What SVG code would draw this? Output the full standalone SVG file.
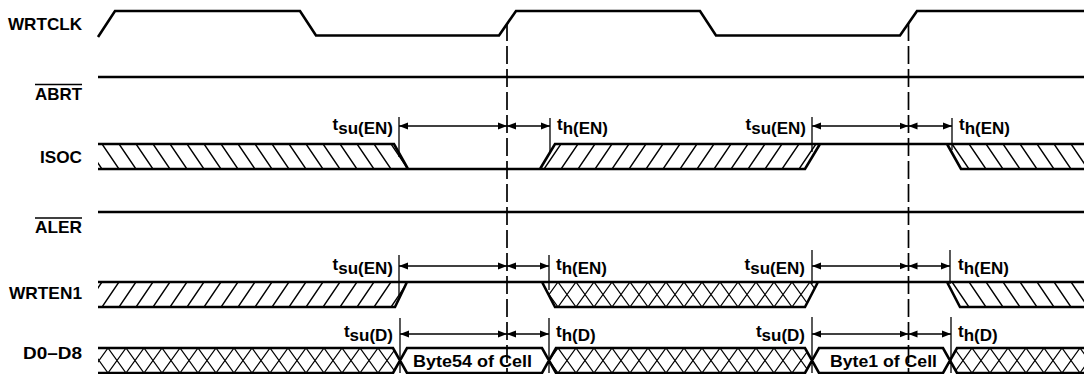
<svg xmlns="http://www.w3.org/2000/svg" width="1084" height="374" viewBox="0 0 1084 374">
<style>
.sig{fill:none;stroke:#000;stroke-width:2.6;stroke-linejoin:miter;stroke-linecap:butt}
.lbl{font-family:"Liberation Sans",Arial,sans-serif;font-weight:bold;font-size:17px;fill:#000}
.ov{stroke:#000;stroke-width:1.6}
.tick{stroke:#000;stroke-width:1.3}
.dim{stroke:#000;stroke-width:1.3;marker-start:url(#ah);marker-end:url(#ah)}
.dash{stroke:#000;stroke-width:1.7;stroke-dasharray:18 5;fill:none}
.h{stroke:#000;stroke-width:1.5;fill:none}
.hx{stroke:#000;stroke-width:1.2;fill:none}
</style>
<defs>
<marker id="ah" markerUnits="userSpaceOnUse" markerWidth="9" markerHeight="8" refX="9" refY="4" orient="auto-start-reverse" viewBox="0 0 9 8">
<path d="M0,0.5 L9,4 L0,7.5 z" fill="#000"/>
</marker>
<pattern id="isocBack" patternUnits="userSpaceOnUse" x="0" y="144" width="17" height="25"><path class="h" d="M0,0 L17,25 M-17,0 L0,25 M17,0 L34,25"/></pattern>
<pattern id="isocFwd" patternUnits="userSpaceOnUse" x="0" y="144" width="17" height="25"><path class="h" d="M17,0 L0,25 M34,0 L17,25 M0,0 L-17,25"/></pattern>
<pattern id="wrFwd" patternUnits="userSpaceOnUse" x="0" y="282" width="17" height="25"><path class="h" d="M17,0 L0,25 M34,0 L17,25 M0,0 L-17,25"/></pattern>
<pattern id="wrBack" patternUnits="userSpaceOnUse" x="0" y="282" width="17" height="25"><path class="h" d="M0,0 L17,25 M-17,0 L0,25 M17,0 L34,25"/></pattern>
<pattern id="wrCross" patternUnits="userSpaceOnUse" x="0" y="282" width="18" height="25"><path class="hx" d="M0,0 L18,25 M-18,0 L0,25 M18,0 L36,25 M18,0 L0,25 M36,0 L18,25 M0,0 L-18,25"/></pattern>
<pattern id="dCross" patternUnits="userSpaceOnUse" x="0" y="348" width="18" height="25"><path class="hx" d="M0,0 L18,25 M-18,0 L0,25 M18,0 L36,25 M18,0 L0,25 M36,0 L18,25 M0,0 L-18,25"/></pattern>
</defs>
<rect width="1084" height="374" fill="#fff"/>

<g id="wrtclk">
<text class="lbl" x="82" y="29.5" text-anchor="end" textLength="74" lengthAdjust="spacingAndGlyphs">WRTCLK</text>
<path class="sig" d="M98,37 L115,11 H300 L316,35.5 H499 L516,11 H700 L716,35.5 H900 L917,11 H1084"/>
</g>

<g id="abrt">
<text class="lbl" x="82" y="100" text-anchor="end" textLength="47" lengthAdjust="spacingAndGlyphs">ABRT</text>
<line class="ov" x1="35" y1="84.5" x2="82" y2="84.5"/>
<path class="sig" d="M98,77 H1084"/>
</g>

<g id="isoc">
<text class="lbl" x="82" y="163" text-anchor="end" textLength="42" lengthAdjust="spacingAndGlyphs">ISOC</text>
<polygon points="98,144 394,144 408,169 98,169" fill="url(#isocBack)"/>
<polygon points="555,144 820,144 805,169 540,169" fill="url(#isocFwd)"/>
<polygon points="947,144 1084,144 1084,169 961,169" fill="url(#isocBack)"/>
<path class="sig" d="M98,144 H394 L408,169 M98,169 H805 L820,144 M540,169 L555,144 H1084 M947,144 L961,169 H1084"/>
</g>

<g id="aler">
<text class="lbl" x="82" y="232.5" text-anchor="end" textLength="47" lengthAdjust="spacingAndGlyphs">ALER</text>
<line class="ov" x1="35" y1="218" x2="82" y2="218"/>
<path class="sig" d="M98,212 H1084"/>
</g>

<g id="wrten1">
<text class="lbl" x="82" y="299" text-anchor="end" textLength="73" lengthAdjust="spacingAndGlyphs">WRTEN1</text>
<polygon points="98,282 407,282 395,307 98,307" fill="url(#wrFwd)"/>
<polygon points="542,282 818,282 805,307 555,307" fill="url(#wrCross)"/>
<polygon points="947,282 1084,282 1084,307 960,307" fill="url(#wrBack)"/>
<path class="sig" d="M98,282 H1084 M98,307 H395 L407,282 M542,282 L555,307 H805 L818,282 M947,282 L960,307 H1084"/>
</g>

<g id="d0d8">
<text class="lbl" x="82" y="359" text-anchor="end" textLength="59" lengthAdjust="spacingAndGlyphs">D0–D8</text>
<polygon points="98,348 393,348 400,360.5 393,373 98,373" fill="url(#dCross)"/>
<polygon points="549,360.5 556,348 805,348 812,360.5 805,373 556,373" fill="url(#dCross)"/>
<polygon points="950,360.5 957,348 1084,348 1084,373 957,373" fill="url(#dCross)"/>
<path class="sig" d="M98,348 H393 L407,373 H542 L556,348 H805 L819,373 H943 L957,348 H1084 M98,373 H393 L407,348 H542 L556,373 H805 L819,348 H943 L957,373 H1084"/>
<text class="lbl" x="472.5" y="367" text-anchor="middle" textLength="119" lengthAdjust="spacingAndGlyphs">Byte54 of Cell</text>
<text class="lbl" x="883.5" y="367" text-anchor="middle" textLength="107" lengthAdjust="spacingAndGlyphs">Byte1 of Cell</text>
</g>

<g id="timing-labels">
<text class="lbl" x="393" y="130" text-anchor="end">t<tspan dy="4">su(EN)</tspan></text>
<text class="lbl" x="557" y="130">t<tspan dy="4">h(EN)</tspan></text>
<text class="lbl" x="806" y="130" text-anchor="end">t<tspan dy="4">su(EN)</tspan></text>
<text class="lbl" x="959" y="130">t<tspan dy="4">h(EN)</tspan></text>
<text class="lbl" x="393" y="270" text-anchor="end">t<tspan dy="4">su(EN)</tspan></text>
<text class="lbl" x="556" y="270">t<tspan dy="4">h(EN)</tspan></text>
<text class="lbl" x="805" y="270" text-anchor="end">t<tspan dy="4">su(EN)</tspan></text>
<text class="lbl" x="958" y="270">t<tspan dy="4">h(EN)</tspan></text>
<text class="lbl" x="393" y="337" text-anchor="end">t<tspan dy="4">su(D)</tspan></text>
<text class="lbl" x="556" y="337">t<tspan dy="4">h(D)</tspan></text>
<text class="lbl" x="805" y="337" text-anchor="end">t<tspan dy="4">su(D)</tspan></text>
<text class="lbl" x="958" y="337">t<tspan dy="4">h(D)</tspan></text>
</g>

<g id="connectors">
<line class="dash" x1="507" y1="23" x2="507" y2="374"/>
<line class="dash" x1="908.5" y1="23" x2="908.5" y2="374"/>
<line class="tick" x1="399" y1="117" x2="399" y2="157"/>
<line class="tick" x1="550" y1="118" x2="550" y2="152"/>
<line class="tick" x1="812" y1="117" x2="812" y2="152"/>
<line class="tick" x1="952" y1="118" x2="952" y2="150"/>
<line class="dim" x1="399" y1="126" x2="507" y2="126"/>
<line class="dim" x1="507" y1="126" x2="550" y2="126"/>
<line class="dim" x1="812" y1="126" x2="908.5" y2="126"/>
<line class="dim" x1="908.5" y1="126" x2="952" y2="126"/>
<line class="tick" x1="399" y1="255" x2="399" y2="295"/>
<line class="tick" x1="549" y1="255" x2="549" y2="290"/>
<line class="tick" x1="812" y1="250" x2="812" y2="284"/>
<line class="tick" x1="950" y1="250" x2="950" y2="284"/>
<line class="dim" x1="399" y1="266" x2="507" y2="266"/>
<line class="dim" x1="507" y1="266" x2="549" y2="266"/>
<line class="dim" x1="812" y1="266" x2="908.5" y2="266"/>
<line class="dim" x1="908.5" y1="266" x2="950" y2="266"/>
<line class="tick" x1="400" y1="318" x2="400" y2="373"/>
<line class="tick" x1="549" y1="318" x2="549" y2="373"/>
<line class="tick" x1="812" y1="317" x2="812" y2="373"/>
<line class="tick" x1="951" y1="317" x2="951" y2="373"/>
<line class="dim" x1="400" y1="334" x2="507" y2="334"/>
<line class="dim" x1="507" y1="334" x2="549" y2="334"/>
<line class="dim" x1="812" y1="334" x2="908.5" y2="334"/>
<line class="dim" x1="908.5" y1="334" x2="951" y2="334"/>
</g>
</svg>
